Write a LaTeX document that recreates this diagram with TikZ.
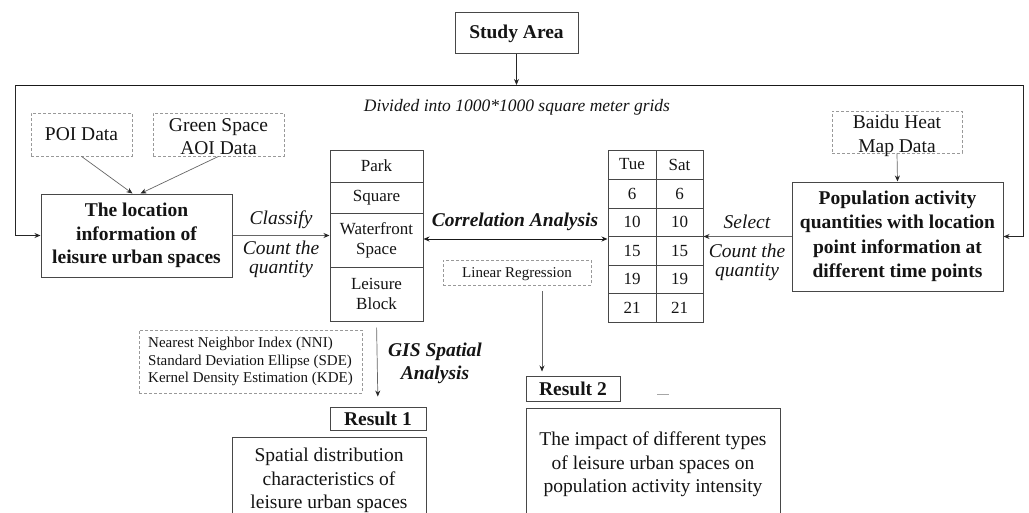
\documentclass[tikz,border=0pt]{standalone}
\usepackage{fontspec}
\setmainfont{Liberation Serif}
\usetikzlibrary{arrows.meta}
\tikzset{
  base/.style={font=\fontsize{19.5}{23.5}\selectfont, text=black!92, align=center, inner sep=0pt},
  bbase/.style={base, font=\fontsize{19.5}{23.8}\selectfont\bfseries},
  box/.style={base, draw=black!72, line width=1pt},
  bbox/.style={bbase, draw=black!72, line width=1pt},
  dbox/.style={base, draw=black!40, line width=0.8pt, dash pattern=on 3pt off 2pt},
  sdbox/.style={dbox, font=\fontsize{15}{17.5}\selectfont},
  cell/.style={box, font=\fontsize{17}{20}\selectfont},
  lbl/.style={base, font=\fontsize{19.5}{20}\selectfont\itshape},
  blbl/.style={base, font=\fontsize{19.5}{23}\selectfont\bfseries\itshape},
  arr/.style={-{Stealth[length=6pt,width=5pt]}, draw=black!85, line width=0.8pt},
  garr/.style={-{Stealth[length=6pt,width=5pt,black!85]}, draw=black!60, line width=0.7pt},
  biarr/.style={{Stealth[length=6pt,width=5pt]}-{Stealth[length=6pt,width=5pt]}, draw=black!90, line width=1pt},
  edge/.style={draw=black!90, line width=1pt}
}
\begin{document}
\begin{tikzpicture}[x=1pt,y=-1pt]
\useasboundingbox (0,0) rectangle (1029,512);
\clip (0,0) rectangle (1029,512);

% top
\node[bbox, minimum width=123pt, minimum height=41pt] (study) at (516.5,32.5) {\rule{0pt}{16pt}Study Area};
\coordinate (tl) at (15,85);
\coordinate (tr) at (1023,85);
\node[lbl, font=\fontsize{17.5}{20}\selectfont\itshape] (div) at (517,107) {Divided into 1000*1000 square meter grids};

% left side
\node[dbox, minimum width=101pt, minimum height=43pt] (poi) at (81.5,134.5) {POI Data};
\node[dbox, minimum width=131pt, minimum height=43pt] (green) at (218.5,134.5) {};
\node[base] (greent) at (218.5,136.5) {Green Space\\AOI Data};
\node[bbox, minimum width=191pt, minimum height=83pt] (loc) at (136.5,235.5) {The location\\information of\\leisure urban spaces};

% category table
\node[cell, minimum width=93pt, minimum height=32pt] (park) at (376.5,166) {Park};
\node[cell, minimum width=93pt, minimum height=31pt] (square) at (376.5,197.5) {Square};
\node[cell, minimum width=93pt, minimum height=54pt] (wf) at (376.5,240) {Waterfront\\Space};
\node[cell, minimum width=93pt, minimum height=54pt] (lb) at (376.5,294) {Leisure\\Block};

% time table
\node[cell, minimum width=48pt, minimum height=29pt] (t0a) at (632,164.5) {Tue};
\node[cell, minimum width=47pt, minimum height=29pt] (t0b) at (679.5,164.5) {Sat};
\node[cell, minimum width=48pt, minimum height=29pt] (t1a) at (632,193.5) {6};
\node[cell, minimum width=47pt, minimum height=29pt] (t1b) at (679.5,193.5) {6};
\node[cell, minimum width=48pt, minimum height=28pt] (t2a) at (632,222) {10};
\node[cell, minimum width=47pt, minimum height=28pt] (t2b) at (679.5,222) {10};
\node[cell, minimum width=48pt, minimum height=29pt] (t3a) at (632,250.5) {15};
\node[cell, minimum width=47pt, minimum height=29pt] (t3b) at (679.5,250.5) {15};
\node[cell, minimum width=48pt, minimum height=28pt] (t4a) at (632,279) {19};
\node[cell, minimum width=47pt, minimum height=28pt] (t4b) at (679.5,279) {19};
\node[cell, minimum width=48pt, minimum height=29pt] (t5a) at (632,307.5) {21};
\node[cell, minimum width=47pt, minimum height=29pt] (t5b) at (679.5,307.5) {21};

% right side
\node[dbox, minimum width=130pt, minimum height=42pt] (baidu) at (897,132) {};
\node[base] (baidut) at (897,136) {Baidu Heat\\Map Data};
\node[bbox, minimum width=211pt, minimum height=109pt, font=\fontsize{19.5}{24.5}\selectfont\bfseries] (pop) at (897.5,236.5) {Population activity\\quantities with location\\point information at\\different time points};

% middle
\node[blbl] (corr) at (515,222) {Correlation Analysis};
\node[sdbox, minimum width=148pt, minimum height=25pt] (linreg) at (517,272.5) {\rule{0pt}{13pt}Linear Regression};
\node[lbl] (cls) at (281,220) {Classify};
\node[lbl] (cnt1) at (281,259) {Count the\\[-1pt]quantity};
\node[lbl] (sel) at (747,222) {Select};
\node[lbl] (cnt2) at (747,262) {Count the\\[-1pt]quantity};

% lower
\node[sdbox, minimum width=223pt, minimum height=63pt, align=left] (nni) at (250.5,361.5) {Nearest Neighbor Index (NNI)\\Standard Deviation Ellipse (SDE)\\Kernel Density Estimation (KDE)};
\node[blbl] (gis) at (435,363.5) {GIS Spatial\\Analysis};
\node[bbox, minimum width=96pt, minimum height=23pt] (res1) at (378,418.5) {Result 1};
\node[box, minimum width=194pt, minimum height=93pt] (r1) at (329,483.5) {Spatial distribution\\characteristics of\\leisure urban spaces\rule[-10.5pt]{0pt}{1pt}};
\node[bbox, minimum width=94pt, minimum height=25pt] (res2) at (573,388.5) {Result 2};
\node[box, minimum width=254pt, minimum height=112pt] (r2) at (653,464.5) {The impact of different types\\of leisure urban spaces on\\population activity intensity};
\coordinate (lrx) at (542,0);
\draw[draw=black!35, line width=0.8pt] (657,394) -- (669,394);

% connectors
\draw[arr] (study) -- (study.south |- tl);
\draw[edge] (tl) -- (tr);
\draw[arr] (tl) |- (loc.west);
\draw[arr] (tr) |- (pop.east);
\draw[garr] (poi.south) -- ([xshift=-4pt]loc.north);
\draw[garr] (green.south) -- ([xshift=4pt]loc.north);
\draw[garr] (loc.east) -- (loc.east -| wf.west);
\draw[biarr] ([yshift=1pt]wf.east) -- ([yshift=1pt]wf.east -| t3a.west);
\draw[garr] (pop.west) -- (pop.west -| t2b.east);
\draw[garr] (baidu.south) -- (pop.north);
\draw[garr, shorten <=6pt, shorten >=10pt] (lb.south) -- (res1.north);
\draw[garr, shorten <=6pt, shorten >=4pt] (linreg.south -| lrx) -- (res2.north -| lrx);
\end{tikzpicture}
\end{document}
